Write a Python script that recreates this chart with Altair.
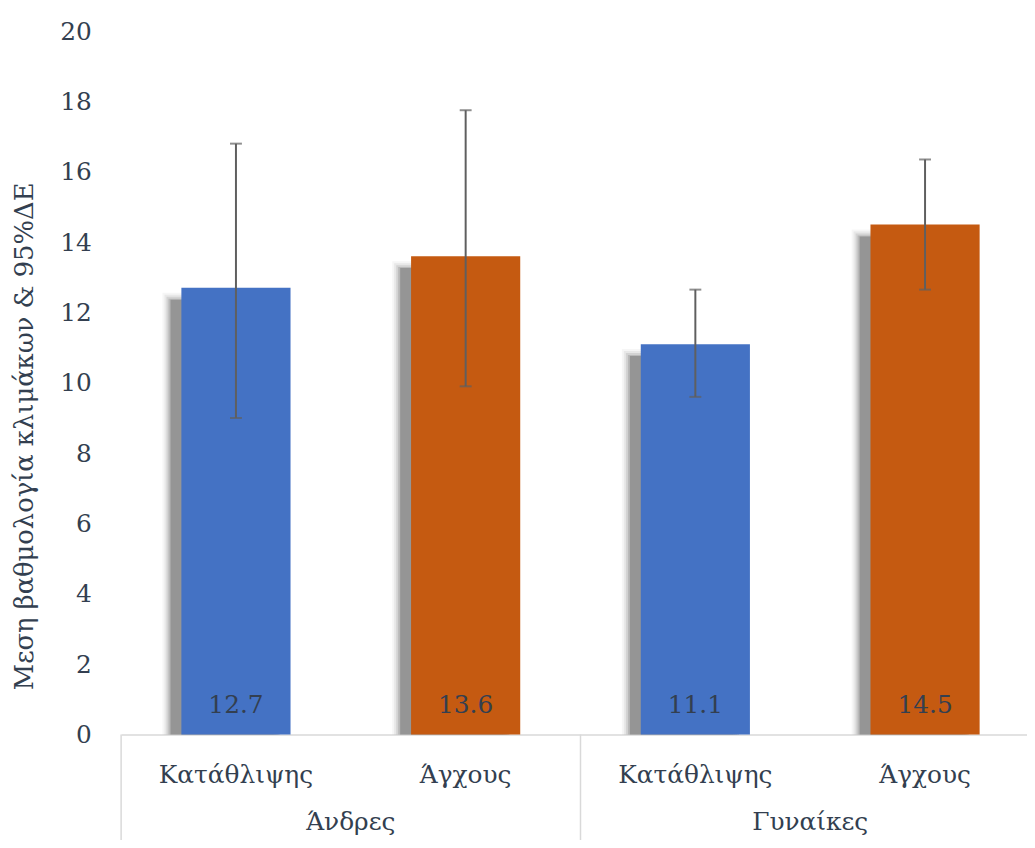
import altair as alt
import pandas as pd

groups = ["Άνδρες", "Άνδρες", "Γυναίκες", "Γυναίκες"]
measures = ["Κατάθλιψης", "Άγχους", "Κατάθλιψης", "Άγχους"]
means = [12.7, 13.6, 11.1, 14.5]
lower = [9.0, 9.9, 9.6, 12.65]
upper = [16.8, 17.75, 12.65, 16.35]
y_ticks = [0, 2, 4, 6, 8, 10, 12, 14, 16, 18, 20]
y_title = "Μεση βαθμολογία κλιμάκων & 95%ΔΕ"

df = pd.DataFrame({
    "group": groups,
    "measure": measures,
    "cat": [g + "|" + m for g, m in zip(groups, measures)],
    "mean": means,
    "lower": lower,
    "upper": upper,
})
order = list(df["cat"])

FONT = "DejaVu Serif"
TXT = "#333f50"
FS = 25
W, H = 913, 709

xscale = alt.Scale(domain=order, range=[0, 926], paddingInner=0, paddingOuter=0)
yscale = alt.Scale(domain=[0, 20], nice=False)

x_axis = alt.Axis(
    title=None, labelExpr="split(datum.label, '|')[1]", labelAngle=0,
    ticks=False, labelPadding=40, labelBaseline="middle", labelAlign="center",
    domainColor="#d9d9d9", domainWidth=1.5, labelFont=FONT, labelFontSize=FS,
    labelColor=TXT, grid=False,
)
y_axis = alt.Axis(
    title=y_title, values=y_ticks, grid=False, domain=False, ticks=False,
    labelPadding=30, labelFont=FONT, labelFontSize=FS, labelColor=TXT,
    titleFont=FONT, titleFontSize=26, titleColor=TXT, titleFontWeight="normal",
    titleAngle=-90, titleX=-97, titleY=408, titleAlign="center", titleBaseline="middle",
)

base = alt.Chart(df)
X = alt.X("cat:N", scale=xscale, axis=x_axis, sort=order)
Xn = alt.X("cat:N", scale=xscale, sort=order)

shadows = []
for xo, yo, op in [(-19, 5, 0.06), (-17, 7, 0.1), (-15, 9, 0.16), (-13, 11, 0.25), (-11, 12, 0.45)]:
    shadows.append(
        base.mark_bar(size=110, color="#6a6a6a", opacity=op, xOffset=xo, yOffset=yo).encode(
            x=Xn, y=alt.Y("mean:Q", scale=yscale), y2=alt.datum(0)
        )
    )

bars = base.mark_bar(size=110).encode(
    x=X,
    y=alt.Y("mean:Q", scale=yscale, axis=y_axis),
    color=alt.Color("measure:N", scale=alt.Scale(domain=["Κατάθλιψης", "Άγχους"],
                                                 range=["#4472C4", "#C55A11"]), legend=None),
)

err = base.mark_rule(color="#5f5f5f", strokeWidth=2).encode(
    x=Xn, y=alt.Y("lower:Q", scale=yscale), y2="upper:Q"
)
cap_hi = base.mark_tick(color="#5f5f5f", size=12, thickness=2).encode(
    x=Xn, y=alt.Y("upper:Q", scale=yscale)
)
cap_lo = base.mark_tick(color="#5f5f5f", size=12, thickness=2).encode(
    x=Xn, y=alt.Y("lower:Q", scale=yscale)
)

vals = base.mark_text(font=FONT, fontSize=FS, color=TXT, baseline="middle", dy=-30).encode(
    x=Xn, y=alt.YDatum(0), text=alt.Text("mean:Q", format=".1f")
)

first = base.transform_filter(alt.datum.measure == "Κατάθλιψης")
glabels = first.mark_text(font=FONT, fontSize=FS, color=TXT, baseline="middle").encode(
    x=alt.X("cat:N", scale=xscale, sort=order, bandPosition=1),
    y=alt.value(H + 88), text="group:N",
)
gdiv = first.mark_rule(color="#d9d9d9", strokeWidth=1.5).encode(
    x=alt.X("cat:N", scale=xscale, sort=order, bandPosition=0),
    y=alt.value(H), y2=alt.value(H + 140),
)

chart = alt.layer(*shadows, bars, err, cap_hi, cap_lo, vals, glabels, gdiv).properties(
    width=W, height=H,
    autosize=alt.AutoSizeParams(type="none"),
    padding={"left": 114, "top": 20, "right": 0, "bottom": 103},
).configure(background="white").configure_view(stroke=None)

chart.save("out.html", embed_options={"renderer": "svg", "actions": False})
